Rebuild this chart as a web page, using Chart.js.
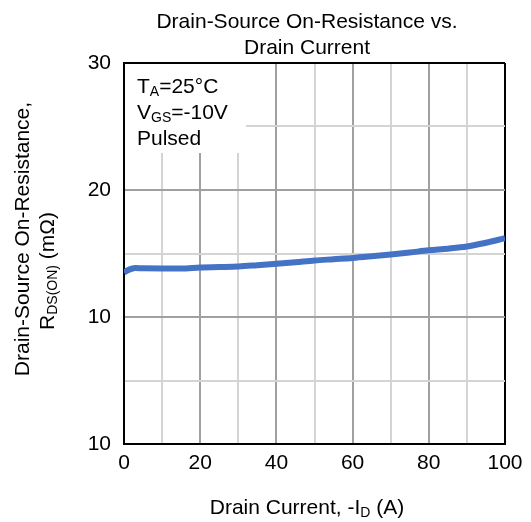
<!DOCTYPE html>
<html>
<head>
<meta charset="utf-8">
<script src="https://cdn.jsdelivr.net/npm/chart.js@4"></script>
<style>
  html, body { margin: 0; padding: 0; background: #fff; }
  #wrap { width: 531px; height: 522px; }
</style>
</head>
<body>
<div id="wrap"><canvas id="grafico-rds"></canvas></div>
<script>
// dados
const currentA = [0, 1, 2, 3, 5, 10, 15, 20, 25, 30, 35, 40, 45, 50, 55, 60, 65, 70, 75, 80, 85, 90, 95, 100];
const rdsOn = [13.5, 13.68, 13.8, 13.85, 13.83, 13.82, 13.82, 13.9, 13.93, 13.97, 14.08, 14.2, 14.32, 14.45, 14.55, 14.65, 14.78, 14.92, 15.08, 15.25, 15.38, 15.55, 15.85, 16.2];
const yTickLabels = ['10', '', '10', '', '20', '', '30'];
const xTickLabels = ['0', '', '20', '', '40', '', '60', '', '80', '', '100'];

const FONT = '"Liberation Sans", Arial, sans-serif';

// escreve texto com partes subscritas
function richText(ctx, parts, x, y, align) {
    const big = '21px ' + FONT, small = '14px ' + FONT;
    let w = 0;
    parts.forEach(p => { ctx.font = p.sub ? small : big; w += ctx.measureText(p.t).width; });
    let cx = align === 'center' ? x - w / 2 : x;
    ctx.textAlign = 'left';
    ctx.textBaseline = 'middle';
    parts.forEach(p => {
        ctx.font = p.sub ? small : big;
        ctx.fillText(p.t, cx, p.sub ? y + 5 : y);
        cx += ctx.measureText(p.t).width;
    });
}

const textos = {
    id: 'textos',
    beforeDatasetsDraw(chart) {
        const ctx = chart.ctx;
        const a = chart.chartArea;
        ctx.save();
        // caixa branca da legenda
        ctx.fillStyle = '#fff';
        ctx.fillRect(a.left + 1, a.top + 1, 121, 89);
        ctx.fillStyle = '#000';
        richText(ctx, [{t: 'T'}, {t: 'A', sub: true}, {t: '=25°C'}], 137, 87);
        richText(ctx, [{t: 'V'}, {t: 'GS', sub: true}, {t: '=-10V'}], 137, 113);
        richText(ctx, [{t: 'Pulsed'}], 137, 139);
        ctx.restore();
    },
    afterDraw(chart) {
        const ctx = chart.ctx;
        ctx.save();
        ctx.fillStyle = '#000';
        richText(ctx, [{t: 'Drain-Source On-Resistance vs.'}], 307, 22, 'center');
        richText(ctx, [{t: 'Drain Current'}], 307, 48, 'center');
        richText(ctx, [{t: 'Drain Current, -I'}, {t: 'D', sub: true}, {t: ' (A)'}], 307, 508, 'center');
        ctx.save();
        ctx.translate(23, 239);
        ctx.rotate(-Math.PI / 2);
        richText(ctx, [{t: 'Drain-Source On-Resistance,'}], 0, 0, 'center');
        ctx.restore();
        ctx.save();
        ctx.translate(48, 271);
        ctx.rotate(-Math.PI / 2);
        richText(ctx, [{t: 'R'}, {t: 'DS(ON)', sub: true}, {t: ' (mΩ)'}], 0, 0, 'center');
        ctx.restore();
        ctx.restore();
    }
};

const corGrade = (edge, major) => edge ? '#000' : (major ? '#a0a0a0' : '#d4d4d4');

new Chart(document.getElementById('grafico-rds'), {
    type: 'line',
    data: {
        datasets: [{
            data: currentA.map((x, i) => ({ x: x, y: rdsOn[i] })),
            borderColor: '#4472C4',
            borderWidth: 6,
            pointRadius: 0,
            cubicInterpolationMode: 'monotone',
            fill: false
        }]
    },
    options: {
        responsive: true,
        maintainAspectRatio: false,
        animation: false,
        layout: { padding: { left: 0, top: 63, right: 26, bottom: 0 } },
        plugins: { legend: { display: false }, tooltip: { enabled: false } },
        scales: {
            x: {
                type: 'linear',
                min: 0,
                max: 100,
                afterFit: s => { s.height = 78; },
                border: { color: '#000', width: 2 },
                grid: {
                    drawTicks: false,
                    lineWidth: 2,
                    color: c => corGrade(c.tick.value === 100, c.tick.value % 20 === 0)
                },
                ticks: {
                    stepSize: 10,
                    padding: 7,
                    maxRotation: 0,
                    autoSkip: false,
                    color: '#000',
                    font: { family: FONT, size: 21 },
                    callback: (v, i) => xTickLabels[i]
                }
            },
            y: {
                min: 0,
                max: 30,
                afterFit: s => { s.width = 124; },
                border: { color: '#000', width: 2 },
                grid: {
                    drawTicks: false,
                    lineWidth: 2,
                    color: c => corGrade(c.tick.value === 30, c.tick.value % 10 === 0)
                },
                ticks: {
                    stepSize: 5,
                    padding: 13,
                    autoSkip: false,
                    color: '#000',
                    font: { family: FONT, size: 21 },
                    callback: (v, i) => yTickLabels[i]
                }
            }
        }
    },
    plugins: [textos]
});
</script>
</body>
</html>
